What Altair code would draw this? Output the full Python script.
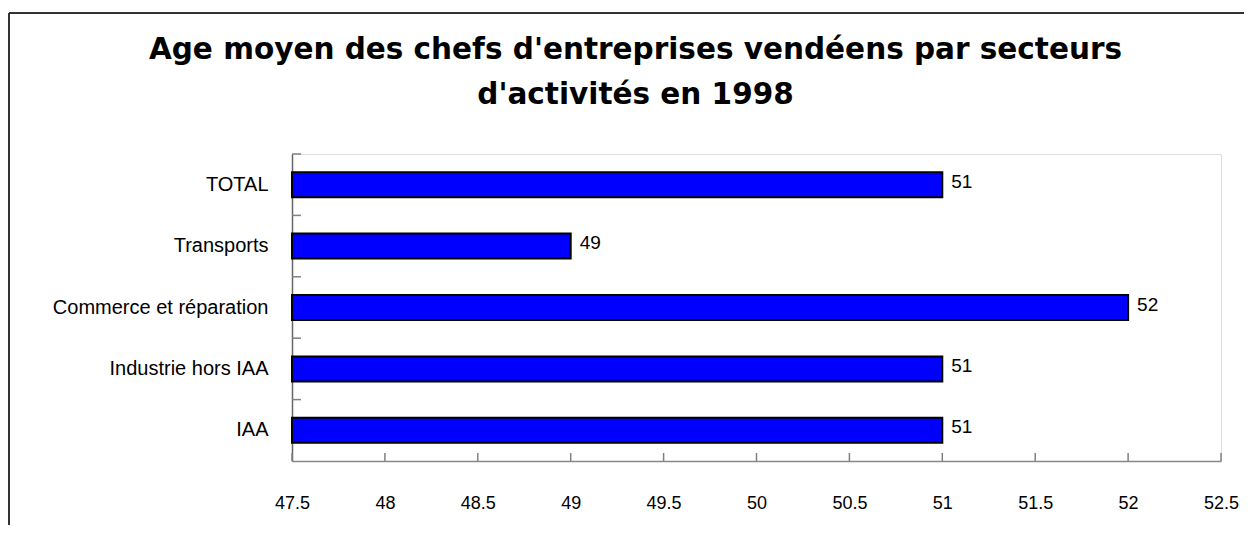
import altair as alt
import pandas as pd

categories = ["TOTAL", "Transports", "Commerce et réparation", "Industrie hors IAA", "IAA"]
values = [51, 49, 52, 51, 51]
x_ticks = [47.5, 48, 48.5, 49, 49.5, 50, 50.5, 51, 51.5, 52, 52.5]
title_lines = ["Age moyen des chefs d'entreprises vendéens par secteurs", "d'activités en 1998"]

W, H = 929, 307
LABEL_FONT = "Liberation Sans"

df = pd.DataFrame({"category": categories, "value": values})
ticks_df = pd.DataFrame({"t": x_ticks})

xscale = alt.Scale(domain=[x_ticks[0], x_ticks[-1]], nice=False, zero=False)
yscale = alt.Scale(domain=categories, paddingInner=0, paddingOuter=0)

one = alt.Data(values=[{"a": 1}])
frame_top = alt.Chart(one).mark_rule(color="#333333", strokeWidth=2).encode(
    x=alt.value(-283), x2=alt.value(952), y=alt.value(-141),
)
frame_left = alt.Chart(one).mark_rule(color="#333333", strokeWidth=2).encode(
    x=alt.value(-283), y=alt.value(-141), y2=alt.value(371),
)

bars = alt.Chart(df).mark_bar(
    size=25, color="#0000FF", stroke="black", strokeWidth=2
).encode(
    x=alt.X("value:Q", scale=xscale,
            axis=alt.Axis(values=x_ticks, format="~g", title=None, grid=False,
                          ticks=False, domainColor="#888888", domainWidth=1.5,
                          labelFont=LABEL_FONT, labelFontSize=18, labelColor="black",
                          labelPadding=33, labelFlush=False, labelOverlap=False)),
    x2=alt.datum(x_ticks[0]),
    y=alt.Y("category:N", sort=categories, scale=yscale,
            axis=alt.Axis(title=None, ticks=False, domainColor="#666666", domainWidth=1.5,
                          labelFont=LABEL_FONT, labelFontSize=20, labelColor="black",
                          labelPadding=24, labelLimit=400)),
)

text = alt.Chart(df).mark_text(
    align="left", baseline="middle", dx=9, dy=-3,
    font=LABEL_FONT, fontSize=19, color="black"
).encode(
    x=alt.X("value:Q", scale=xscale),
    y=alt.Y("category:N", sort=categories, scale=yscale),
    text=alt.Text("value:Q"),
)

yticks = alt.Chart(df).mark_rule(color="#808080", strokeWidth=1.5).encode(
    y=alt.Y("category:N", sort=categories, scale=yscale, bandPosition=0),
    x=alt.value(0), x2=alt.value(9),
)

xticks = alt.Chart(ticks_df).mark_rule(color="#808080", strokeWidth=1.5).encode(
    x=alt.X("t:Q", scale=xscale),
    y=alt.value(H - 8), y2=alt.value(H),
)

chart = alt.layer(frame_top, frame_left, bars, text, yticks, xticks).properties(
    width=W, height=H, padding={"top": 4, "left": 0, "right": 0, "bottom": 0},
    title=alt.Title(text=title_lines, font="DejaVu Sans", fontWeight="bold",
                    fontSize=29.5, lineHeight=45, offset=-98, frame="bounds",
                    anchor="middle", dx=9, color="black"),
).configure_view(stroke="transparent", strokeWidth=0).configure(background="white")

chart.save("out.html", embed_options={"renderer": "svg", "actions": False})
